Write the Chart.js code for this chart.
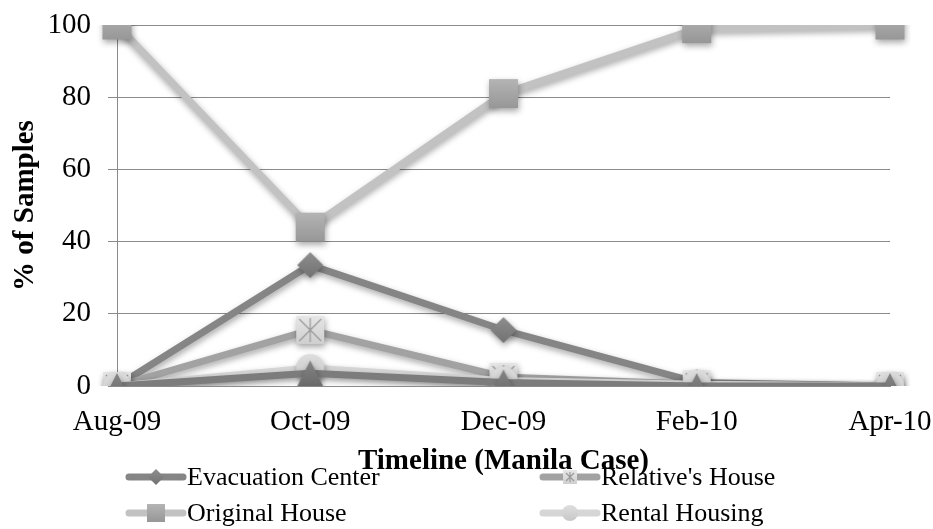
<!DOCTYPE html>
<html>
<head>
<meta charset="utf-8">
<script src="https://cdn.jsdelivr.net/npm/chart.js@4"></script>
<style>
  html, body { margin: 0; padding: 0; background: #fff; }
  #wrap { width: 933px; height: 529px; }
</style>
</head>
<body>
<div id="wrap"><canvas id="c" width="933" height="529"></canvas></div>
<script>
// Survey months
const months = ['Aug-09', 'Oct-09', 'Dec-09', 'Feb-10', 'Apr-10'];
// Share of sampled households (%) by place of residence
const evacuationCenter = [0, 33.5, 15.5, 1, 0];
const relativesHouse   = [0, 15.5, 2.5, 0.5, 0];
const originalHouse    = [100, 44, 81, 99, 100];
const rentalHousing    = [0, 5, 1.5, 0.5, 0];
const otherPlaces      = [0, 3.5, 1, 0, 0];
const yTicks = [0, 20, 40, 60, 80, 100];

const FONT = '"Liberation Serif", "Times New Roman", serif';

// Marker images with a soft vertical gradient
function makeMarker(kind, size, top, bottom, line) {
  const pad = 2;
  const cv = document.createElement('canvas');
  cv.width = size + pad * 2; cv.height = size + pad * 2;
  const g = cv.getContext('2d');
  const grad = g.createLinearGradient(0, pad, 0, pad + size);
  grad.addColorStop(0, top); grad.addColorStop(1, bottom);
  g.fillStyle = grad;
  const s = size, o = pad, c = o + s / 2;
  g.beginPath();
  if (kind === 'square' || kind === 'star') {
    g.rect(o, o, s, s);
  } else if (kind === 'diamond') {
    g.moveTo(c, o); g.lineTo(o + s, c); g.lineTo(c, o + s); g.lineTo(o, c); g.closePath();
  } else if (kind === 'circle') {
    g.arc(c, c, s / 2, 0, Math.PI * 2);
  } else if (kind === 'triangle') {
    g.moveTo(c, o); g.lineTo(o + s, o + s); g.lineTo(o, o + s); g.closePath();
  }
  g.fill();
  if (kind === 'star') {
    g.strokeStyle = line; g.lineWidth = 1.2;
    g.beginPath();
    g.moveTo(o + 3, o + 3); g.lineTo(o + s - 3, o + s - 3);
    g.moveTo(o + s - 3, o + 3); g.lineTo(o + 3, o + s - 3);
    g.moveTo(c, o + 2); g.lineTo(c, o + s - 2);
    g.stroke();
  }
  return cv;
}

const mk = {
  diamond:  makeMarker('diamond', 26, '#8e8e8e', '#727272'),
  star:     makeMarker('star', 28, '#e6e6e6', '#cfcfcf', '#9a9a9a'),
  square:   makeMarker('square', 29, '#b4b4b4', '#979797'),
  circle:   makeMarker('circle', 28, '#dedede', '#c8c8c8'),
  triangle: makeMarker('triangle', 26, '#858585', '#6a6a6a')
};
const mkSmall = {
  diamond:  makeMarker('diamond', 16, '#8e8e8e', '#727272'),
  star:     makeMarker('star', 14, '#e6e6e6', '#cfcfcf', '#9a9a9a'),
  square:   makeMarker('square', 18, '#b4b4b4', '#979797'),
  circle:   makeMarker('circle', 16, '#dedede', '#c8c8c8')
};

function series(label, data, color, marker, order) {
  return {
    label, data, order,
    borderColor: color,
    backgroundColor: color,
    borderWidth: 7,
    pointStyle: marker,
    pointRadius: 14,
    pointHoverRadius: 14,
    borderCapStyle: 'round',
    borderJoinStyle: 'round',
    tension: 0
  };
}

// Drop shadow under lines and markers
const shadowPlugin = {
  id: 'shadow',
  beforeDatasetDraw(chart) {
    const ctx = chart.ctx;
    ctx.save();
    ctx.shadowColor = 'rgba(0,0,0,0.35)';
    ctx.shadowBlur = 6;
    ctx.shadowOffsetX = 1;
    ctx.shadowOffsetY = 3;
  },
  afterDatasetDraw(chart) {
    chart.ctx.restore();
  }
};

// Two-column legend below the axis title
const legendItems = [
  { text: 'Evacuation Center', color: '#858585', marker: mkSmall.diamond, x: 126, y: 477 },
  { text: "Relative's House", color: '#a2a2a2', marker: mkSmall.star, x: 540, y: 477 },
  { text: 'Original House', color: '#c2c2c2', marker: mkSmall.square, x: 126, y: 513 },
  { text: 'Rental Housing', color: '#d6d6d6', marker: mkSmall.circle, x: 540, y: 513 }
];
const legendPlugin = {
  id: 'gridLegend',
  afterDraw(chart) {
    const ctx = chart.ctx;
    ctx.save();
    legendItems.forEach(it => {
      ctx.strokeStyle = it.color;
      ctx.lineWidth = 7;
      ctx.lineCap = 'round';
      ctx.beginPath();
      ctx.moveTo(it.x + 3, it.y);
      ctx.lineTo(it.x + 57, it.y);
      ctx.stroke();
      const m = it.marker;
      ctx.drawImage(m, it.x + 30 - m.width / 2, it.y - m.height / 2);
      ctx.fillStyle = '#000';
      ctx.font = '26px ' + FONT;
      ctx.textBaseline = 'middle';
      ctx.textAlign = 'left';
      ctx.fillText(it.text, it.x + 61, it.y + 1);
    });
    ctx.restore();
  }
};

new Chart(document.getElementById('c'), {
  type: 'line',
  data: {
    labels: months,
    datasets: [
      series('Evacuation Center', evacuationCenter, '#858585', mk.diamond, 5),
      series("Relative's House", relativesHouse, '#a2a2a2', mk.star, 4),
      series('Original House', originalHouse, '#c2c2c2', mk.square, 3),
      series('Rental Housing', rentalHousing, '#d6d6d6', mk.circle, 2),
      series('Others', otherPlaces, '#7c7c7c', mk.triangle, 1)
    ]
  },
  options: {
    responsive: false,
    animation: false,
    devicePixelRatio: 1,
    layout: { padding: { left: 0, right: 43, top: 25, bottom: 0 } },
    plugins: {
      legend: { display: false },
      tooltip: { enabled: false }
    },
    scales: {
      x: {
        offset: false,
        grid: { display: false, drawTicks: false },
        border: { display: true, color: '#8a8a8a', width: 1 },
        ticks: { color: '#000', font: { family: FONT, size: 29 }, padding: 19, maxRotation: 0, autoSkip: false },
        title: {
          display: true,
          text: 'Timeline (Manila Case)',
          color: '#000',
          font: { family: FONT, size: 29, weight: 'bold' },
          padding: { top: 0, bottom: 50 }
        },
        afterFit(scale) {
          scale.height = 143;
          scale.paddingLeft = 0;
          scale.paddingRight = 0;
        }
      },
      y: {
        min: 0, max: 100,
        afterBuildTicks(scale) { scale.ticks = yTicks.map(v => ({ value: v })); },
        grid: { color: '#8a8a8a', lineWidth: 1, tickLength: 9, drawTicks: true },
        border: { display: true, color: '#8a8a8a', width: 1 },
        ticks: { color: '#000', font: { family: FONT, size: 29 }, padding: 17 },
        title: {
          display: true,
          text: '% of Samples',
          color: '#000',
          font: { family: FONT, size: 29, weight: 'bold' },
          padding: { top: 8, bottom: 0 }
        },
        afterFit(scale) {
          scale.width = 117;
          scale.paddingTop = 0;
          scale.paddingBottom = 0;
        }
      }
    }
  },
  plugins: [shadowPlugin, legendPlugin]
});
</script>
</body>
</html>
